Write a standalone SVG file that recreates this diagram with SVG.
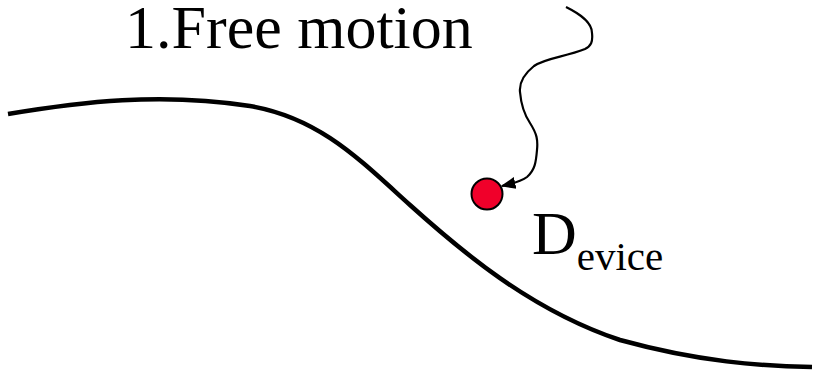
<svg xmlns="http://www.w3.org/2000/svg" width="819" height="377" viewBox="0 0 819 377">
<style>
text{font-family:'Liberation Serif','DejaVu Serif',serif;fill:#000}
.ln{fill:none;stroke:#000;stroke-linecap:butt;stroke-linejoin:round}
</style>
<defs>
<marker id="ah" viewBox="0 0 10 10" refX="9" refY="5" markerWidth="15" markerHeight="15" markerUnits="userSpaceOnUse" orient="auto">
<path d="M0,1 L10,5 L0,9 Z" fill="#000"/>
</marker>
</defs>
<rect width="819" height="377" fill="#fff"/>
<g id="slope">
<path class="ln" stroke-width="4.5" d="M8,114 C80,102 160,92 250,106 C320,118 360,160 410,205 C460,250 530,310 620,340 C700,362 760,366 812,367"/>
</g>
<g id="connectors">
<path class="ln" stroke-width="2.2" marker-end="url(#ah)" d="M566,7 C580,14 592,22 592,33 C593,42 591,46 585,49 C565,57 545,58 534,66 C524,74 519,82 520,92 C521,104 524,114 530,123 C537,134 538,140 537,150 C536,162 535,170 527,177 C522,181 515,183 502,186"/>
</g>
<g id="device">
<circle cx="487" cy="194" r="15.5" fill="#f0002a" stroke="#000" stroke-width="2"/>
</g>
<g id="title">
<text x="125" y="48" font-family="Liberation Serif, serif" font-size="62">1.Free motion</text>
</g>
<g id="device-label">
<text x="532" y="254" font-family="Liberation Serif, serif" font-size="62">D<tspan font-size="41" dy="16">evice</tspan></text>
</g>
</svg>
